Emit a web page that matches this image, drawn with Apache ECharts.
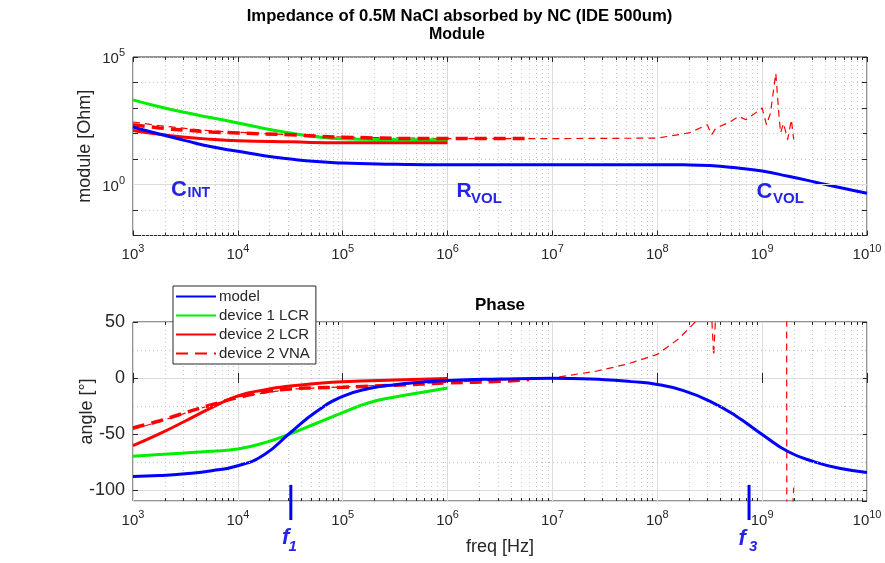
<!DOCTYPE html>
<html><head><meta charset="utf-8">
<script src="https://cdn.jsdelivr.net/npm/echarts@6/dist/echarts.min.js"></script>
<style>html,body{margin:0;padding:0;background:#fff}#c{width:885px;height:563px}</style>
</head><body><div id="c"></div><script>
// ---------- data ----------
const modelModFreq = [1e3,1.78e3,3.16e3,5.62e3,1e4,1.78e4,3.16e4,5.62e4,1e5,1.78e5,3.16e5,1e6,1e7,1e8,1.78e8,3.16e8,5.62e8,1e9,1.78e9,3.16e9,5.62e9,1e10];
const modelMod     = [178,95.5,52.5,30,20,13.5,10,7.9,6.9,6.5,6.2,6.0,6.0,6.0,5.9,5.5,4.5,3.4,2.1,1.26,0.74,0.45];
const dev1ModFreq  = [1e3,1.78e3,3.16e3,5.62e3,1e4,1.78e4,3.16e4,5.62e4,1e5,3.16e5,1e6];
const dev1Mod      = [2090,1122,661,417,257,158,105,74,62,58,56];
const dev2LcrModFreq = [1e3,1.78e3,3.16e3,5.62e3,1e4,3.16e4,1e5,1e6];
const dev2LcrMod     = [132,93,71,59,52.5,47,43,43];
const vnaModFreq   = [1e3,1.78e3,3.16e3,5.62e3,1e4,3.16e4,1e5,1e6,6e6];
const vnaMod       = [219,166,135,115,105,89,72,63,63];
const vnaFullModFreq = [1e3,1.78e3,3.16e3,5.62e3,1e4,3.16e4,1e5,1e6,1e7,1e8,2e8,3e8,3.3e8,3.6e8,5e8,6e8,7e8,9e8,1e9,1.1e9,1.2e9,1.35e9,1.45e9,1.5e9,1.6e9,1.75e9,1.9e9,2e9];
const vnaFullMod     = [282,204,158,126,112,89,72,63,63,66,105,219,89,158,295,468,347,724,1000,219,631,22900,468,107,251,58,347,58];

const modelPhFreq = [1e3,1.78e3,3.16e3,5.62e3,1e4,1.78e4,3.16e4,5.62e4,1e5,1.78e5,3.16e5,5.62e5,1e6,3.16e6,1e7,3.16e7,5.62e7,1e8,1.78e8,3.16e8,5.62e8,1e9,1.78e9,3.16e9,5.62e9,1e10];
const modelPh     = [-88,-87.3,-85.7,-83,-78.5,-68.6,-49,-30,-16.5,-9.5,-6,-3.8,-2.2,-1,-0.3,-1.6,-3.3,-5.8,-11.3,-20.7,-34,-50.5,-66,-75,-81,-84.5];
const dev1PhFreq  = [1e3,1.78e3,3.16e3,5.62e3,1e4,1.78e4,3.16e4,5.62e4,1e5,1.78e5,3.16e5,5.62e5,1e6];
const dev1Ph      = [-70,-68.5,-67,-65.5,-63.5,-58,-50,-40.5,-31,-22.2,-17,-13,-9];
const dev2LcrPhFreq = [1e3,1.78e3,3.16e3,5.62e3,1e4,1.78e4,3.16e4,5.62e4,1e5,3.16e5,1e6];
const dev2LcrPh     = [-60.5,-50,-38.5,-26.5,-16,-10.7,-7.3,-5,-3.4,-1.8,-0.6];
const vnaPhFreq   = [1e3,1.78e3,3.16e3,5.62e3,1e4,1.78e4,3.16e4,5.62e4,1e5,3.16e5,1e6,3.16e6,6e6];
const vnaPh       = [-44.6,-38.5,-31,-24,-17.6,-12.6,-9.8,-8.8,-8.3,-6.5,-4.5,-3,-1.5];
const vnaFullPhFreq = [1e3,1.78e3,3.16e3,5.62e3,1e4,3.16e4,1e5,1e6,3e6,1e7,2.6e7,5e7,1e8,1.6e8,2.3e8,2.8e8,3.2e8,3.3e8,3.45e8,3.6e8,4e8,1e9,1.71e9,1.72e9,1.9e9,2e9];
const vnaFullPh     = [-46,-39,-31.5,-24,-17,-10,-8,-4,-2,0,6,12,21,35,50,100,80,55,20,55,120,170,170,-170,-140,-98];

const markerFreqs = [3.2e4, 7.5e8];   // f1, f3
const markerRange = [-95.6, -127];
const phaseMinorGrid = [-75, -25, 25];
const moduleMajorGrid = [1];
const xRange = [1e3, 1e10];
const modRange = [1e-2, 1e5];
const phRange = [-110, 50];

const titleMain = 'Impedance of 0.5M NaCl absorbed by NC (IDE 500um)';
const legendNames = ['model','device 1 LCR','device 2 LCR','device 2 VNA'];

// ---------- chart ----------
const FONT = '"Liberation Sans", Arial, Helvetica, sans-serif';
const AX = '#262626';
const BLUE = '#0000ff', GREEN = '#00ee00', RED = '#ff0000', ANN = '#2424e8';
const pair = (xs, ys) => xs.map((x, i) => [x, ys[i]]);
const exp10 = v => Math.round(Math.log10(v));
const supRich = {
  b: {fontSize: 15, color: AX, fontFamily: FONT, verticalAlign: 'bottom', lineHeight: 19},
  s: {fontSize: 11, color: AX, fontFamily: FONT, verticalAlign: 'top', lineHeight: 11}
};
const supFmt = v => '{b|10}{s|' + exp10(v) + '}';

// minor grid positions (2..9 per decade) across the x range
const minorFreqs = [];
for (let d = exp10(xRange[0]); d < exp10(xRange[1]); d++) for (let k = 2; k <= 9; k++) minorFreqs.push(k * Math.pow(10, d));

function xAxisPair(g, name) {
  const base = {
    gridIndex: g, type: 'log', logBase: 10, min: xRange[0], max: xRange[1], interval: 1,
    axisLine: {show: false},
    axisTick: {show: true, inside: true, length: 5, lineStyle: {color: AX}},
    minorTick: {show: false}, minorSplitLine: {show: false}
  };
  return [
    Object.assign({}, base, {
      position: 'bottom',
      axisLabel: {show: true, formatter: supFmt, rich: supRich, margin: 8},
      splitLine: {show: true, lineStyle: {color: '#dcdcdc', width: 1}},
      name: name || '', nameLocation: 'middle', nameGap: 37, nameMoveOverlap: false,
      nameTextStyle: {fontSize: 18, color: AX, fontFamily: FONT}
    }),
    Object.assign({}, base, {position: 'top', axisLabel: {show: false}, splitLine: {show: false}})
  ];
}

const xAxes = [...xAxisPair(0), ...xAxisPair(1, 'freq [Hz]')];
const yAxes = [
  {gridIndex: 0, type: 'log', logBase: 10, min: modRange[0], max: modRange[1], interval: 1, position: 'left',
   axisLine: {show: false}, axisTick: {inside: true, length: 5, lineStyle: {color: AX}},
   axisLabel: {formatter: v => { const e = exp10(v); return (e === 0 || e === 5) ? supFmt(v) : ''; }, rich: supRich, margin: 8},
   splitLine: {show: true, lineStyle: {color: '#c6c6c6', type: [1, 3]}},
   name: 'module [Ohm]', nameLocation: 'middle', nameGap: 39, nameMoveOverlap: false,
   nameTextStyle: {fontSize: 18, color: AX, fontFamily: FONT}},
  {gridIndex: 0, type: 'log', logBase: 10, min: modRange[0], max: modRange[1], interval: 1, position: 'right',
   axisLine: {show: false}, axisTick: {inside: true, length: 5, lineStyle: {color: AX}},
   axisLabel: {show: false}, splitLine: {show: false}},
  {gridIndex: 1, type: 'value', min: phRange[0], max: phRange[1], splitNumber: 3, position: 'left',
   axisLine: {show: false}, axisTick: {inside: true, length: 5, lineStyle: {color: AX}},
   axisLabel: {showMinLabel: false, fontSize: 18, color: AX, fontFamily: FONT, margin: 8},
   splitLine: {show: true, lineStyle: {color: '#dcdcdc'}},
   name: 'angle [°]', nameLocation: 'middle', nameGap: 37, nameMoveOverlap: false,
   nameTextStyle: {fontSize: 18, color: AX, fontFamily: FONT}},
  {gridIndex: 1, type: 'value', min: phRange[0], max: phRange[1], splitNumber: 3, position: 'right',
   axisLine: {show: false}, axisTick: {inside: true, length: 5, lineStyle: {color: AX}},
   axisLabel: {show: false}, splitLine: {show: false}}
];

function lineSeries(name, g, xs, ys, color, width, type, smooth) {
  return {
    name, type: 'line', xAxisIndex: g * 2, yAxisIndex: g * 2, data: pair(xs, ys),
    symbol: 'none', smooth: smooth, clip: true, z: 3,
    lineStyle: {color, width, type: type || 'solid'}, itemStyle: {color},
    emphasis: {disabled: true}
  };
}

function minorGridSeries(g, yRef) {
  return {
    type: 'custom', xAxisIndex: g * 2, yAxisIndex: g * 2, z: 1, silent: true, clip: false,
    data: minorFreqs.map(f => [f, yRef]), encode: {x: 0, y: 1},
    renderItem: (params, api) => {
      const cs = params.coordSys;
      const x = Math.round(api.coord([api.value(0), api.value(1)])[0]) + 0.5;
      const t = cs.y, b = cs.y + cs.height;
      return {type: 'group', children: [
        {type: 'line', shape: {x1: x, y1: t, x2: x, y2: b}, style: {stroke: '#c6c6c6', lineWidth: 1, lineDash: [1, 3]}},
        {type: 'line', shape: {x1: x, y1: b, x2: x, y2: b - 3}, style: {stroke: AX, lineWidth: 1}},
        {type: 'line', shape: {x1: x, y1: t, x2: x, y2: t + 3}, style: {stroke: AX, lineWidth: 1}}
      ]};
    }
  };
}

const series = [
  minorGridSeries(0, 1),
  minorGridSeries(1, 0),
  {type: 'line', xAxisIndex: 0, yAxisIndex: 0, data: [], z: 1, silent: true,
   markLine: {silent: true, symbol: 'none', label: {show: false}, animation: false,
     lineStyle: {color: '#dcdcdc', type: 'solid', width: 1},
     data: moduleMajorGrid.map(v => ({yAxis: v}))}},
  {type: 'line', xAxisIndex: 2, yAxisIndex: 2, data: [], z: 1, silent: true,
   markLine: {silent: true, symbol: 'none', label: {show: false}, animation: false,
     lineStyle: {color: '#c6c6c6', type: [1, 3], width: 1},
     data: phaseMinorGrid.map(v => ({yAxis: v}))}},
  // module
  lineSeries('device 2 VNA (full)', 0, vnaFullModFreq, vnaFullMod, RED, 1.2, [7, 5], false),
  lineSeries('device 1 LCR', 0, dev1ModFreq, dev1Mod, GREEN, 3, 'solid', 0.5),
  lineSeries('device 2 LCR', 0, dev2LcrModFreq, dev2LcrMod, RED, 3, 'solid', 0.5),
  lineSeries('device 2 VNA', 0, vnaModFreq, vnaMod, RED, 3.5, [12, 7], 0.5),
  lineSeries('model', 0, modelModFreq, modelMod, BLUE, 3, 'solid', 0.5),
  // phase
  lineSeries('device 2 VNA (full)', 1, vnaFullPhFreq, vnaFullPh, RED, 1.2, [7, 5], false),
  lineSeries('device 1 LCR', 1, dev1PhFreq, dev1Ph, GREEN, 3, 'solid', 0.5),
  lineSeries('device 2 LCR', 1, dev2LcrPhFreq, dev2LcrPh, RED, 3, 'solid', 0.5),
  lineSeries('device 2 VNA', 1, vnaPhFreq, vnaPh, RED, 3.5, [12, 7], 0.5),
  lineSeries('model', 1, modelPhFreq, modelPh, BLUE, 3, 'solid', 0.5),
];
markerFreqs.forEach((f, i) => {
  series.push({name: 'marker' + i, type: 'line', xAxisIndex: 2, yAxisIndex: 2, clip: false, symbol: 'none', z: 4,
    data: markerRange.map(v => [f, v]), lineStyle: {color: BLUE, width: 3}, silent: true});
});

function txt(text, x, y, size, opts) {
  opts = opts || {};
  return {type: 'text', x, y, silent: true, z: 100,
    style: {text, fill: opts.fill || AX, font: (opts.style || '') + ' ' + (opts.weight || 'normal') + ' ' + size + 'px ' + FONT,
            align: opts.align || 'left', verticalAlign: 'middle'}};
}
const bold = {weight: 'bold', fill: '#000'};
const ann = {weight: 'bold', fill: ANN};
const annI = {weight: 'bold', fill: ANN, style: 'italic'};

const graphic = [
  txt(titleMain, 459.5, 16.8, 16.7, Object.assign({align: 'center'}, bold)),
  txt('Module', 457, 34.1, 16, Object.assign({align: 'center'}, bold)),
  txt('Phase', 500, 305.8, 17, Object.assign({align: 'center'}, bold)),
  txt('C', 171, 189.5, 22, ann), txt('INT', 187.5, 193.5, 14, ann),
  txt('R', 456.5, 191, 21, ann), txt('VOL', 471, 198.5, 15, ann),
  txt('C', 756.5, 192.3, 22, ann), txt('VOL', 773, 199.3, 15, ann),
  txt('f', 282, 538.4, 22, annI), txt('1', 288.5, 546.5, 15, annI),
  txt('f', 738.5, 539.4, 22, annI), txt('3', 749, 546.8, 15, annI),
];

const chart = echarts.init(document.getElementById('c'), null, {renderer: 'canvas'});
chart.setOption({
  animation: false,
  backgroundColor: '#fff',
  textStyle: {fontFamily: FONT},
  grid: [
    {left: 133, right: 18, top: 57, height: 178.5, show: true, borderColor: AX, borderWidth: 1, backgroundColor: 'transparent'},
    {left: 133, right: 18, top: 322, height: 179, show: true, borderColor: AX, borderWidth: 1, backgroundColor: 'transparent'}
  ],
  legend: {
    data: legendNames, orient: 'vertical', left: 173, top: 286, itemWidth: 40, itemHeight: 14, itemGap: 4,
    padding: [3, 6, 3, 2], backgroundColor: '#fff', borderColor: AX, borderWidth: 1, selectedMode: false, z: 50,
    itemStyle: {opacity: 0},
    textStyle: {fontSize: 15, color: AX, fontFamily: FONT, padding: [0, 0, 0, -2]}
  },
  xAxis: xAxes,
  yAxis: yAxes,
  series,
  graphic
});
</script></body></html>
